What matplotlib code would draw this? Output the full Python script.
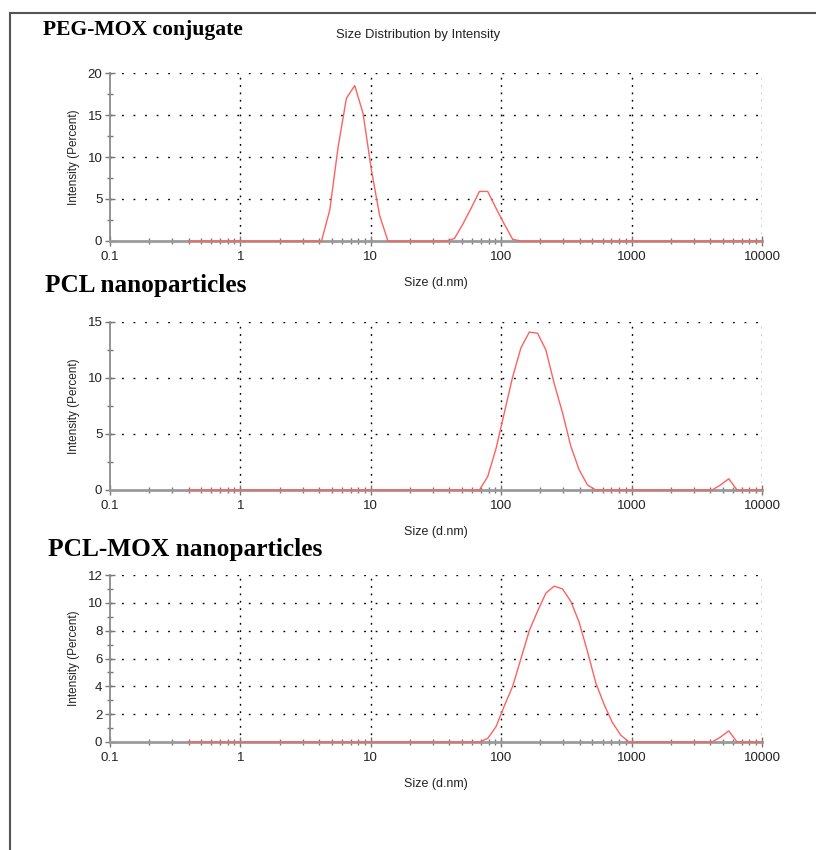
import numpy as np
import matplotlib
matplotlib.use("Agg")
import matplotlib.pyplot as plt
from matplotlib.lines import Line2D
from matplotlib.ticker import MultipleLocator, LogLocator, FixedLocator

# Zetasizer size classes (d.nm)
sizes = [0.4, 0.4632, 0.5365, 0.6213, 0.7195, 0.8332, 0.9649, 1.117, 1.294, 1.499,
         1.736, 2.010, 2.328, 2.696, 3.122, 3.615, 4.187, 4.849, 5.615, 6.503,
         7.531, 8.721, 10.10, 11.70, 13.54, 15.69, 18.17, 21.04, 24.36, 28.21,
         32.67, 37.84, 43.82, 50.75, 58.77, 68.06, 78.82, 91.28, 105.7, 122.4,
         141.8, 164.2, 190.1, 220.2, 255.0, 295.3, 342.0, 396.1, 458.7, 531.2,
         615.1, 712.4, 825.0, 955.4, 1106, 1281, 1484, 1718, 1990, 2305,
         2669, 3091, 3580, 4145, 4801, 5560, 6439, 7456, 8635, 10000]

# intensity (%) per size class
peg_mox = [0, 0, 0, 0, 0, 0, 0, 0, 0, 0,
           0, 0, 0, 0, 0, 0, 0, 3.7, 11.2, 17.0,
           18.5, 15.2, 8.5, 3.0, 0, 0, 0, 0, 0, 0,
           0, 0, 0.3, 2.0, 3.9, 5.9, 5.9, 3.9, 2.0, 0.2,
           0, 0, 0, 0, 0, 0, 0, 0, 0, 0,
           0, 0, 0, 0, 0, 0, 0, 0, 0, 0,
           0, 0, 0, 0, 0, 0, 0, 0, 0, 0]

pcl_np = [0, 0, 0, 0, 0, 0, 0, 0, 0, 0,
          0, 0, 0, 0, 0, 0, 0, 0, 0, 0,
          0, 0, 0, 0, 0, 0, 0, 0, 0, 0,
          0, 0, 0, 0, 0, 0, 1.2, 3.7, 6.9, 10.1,
          12.7, 14.1, 14.0, 12.5, 9.5, 6.9, 3.9, 1.8, 0.45, 0,
          0, 0, 0, 0, 0, 0, 0, 0, 0, 0,
          0, 0, 0, 0, 0.45, 1.0, 0, 0, 0, 0]

pcl_mox_np = [0, 0, 0, 0, 0, 0, 0, 0, 0, 0,
              0, 0, 0, 0, 0, 0, 0, 0, 0, 0,
              0, 0, 0, 0, 0, 0, 0, 0, 0, 0,
              0, 0, 0, 0, 0, 0, 0.26, 1.1, 2.6, 4.0,
              6.0, 8.0, 9.4, 10.7, 11.2, 11.0, 10.1, 8.6, 6.5, 4.25,
              2.7, 1.4, 0.5, 0, 0, 0, 0, 0, 0, 0,
              0, 0, 0, 0, 0.35, 0.8, 0, 0, 0, 0]

titles = ["PEG-MOX conjugate", "PCL nanoparticles", "PCL-MOX nanoparticles"]
title_sizes = [15.6, 18.2, 18.3]
ymaxes = [20, 15, 12]
ysteps = [5, 5, 2]
x_ticks = [0.1, 1, 10, 100, 1000, 10000]
x_ticklabels = ["0.1", "1", "10", "100", "1000", "10000"]

W, H = 816, 850
SANS = "Liberation Sans"
SERIF = "Liberation Serif"


def px_box(left, top, right, bottom):
    return [left / W, 1 - bottom / H, (right - left) / W, (bottom - top) / H]


def draw_panel(fig, box, y, ymax, ystep):
    ax = fig.add_axes(box)
    ax.plot(sizes, y, color="#ff6060", lw=1.0, zorder=4, clip_on=False)
    ax.set_xscale("log")
    ax.set_xlim(0.1, 10000)
    ax.set_ylim(0, ymax)

    ax.xaxis.set_major_locator(FixedLocator(x_ticks))
    ax.set_xticklabels(x_ticklabels)
    ax.xaxis.set_minor_locator(LogLocator(base=10, subs=np.arange(2, 10)))
    ax.yaxis.set_major_locator(MultipleLocator(ystep))
    ax.yaxis.set_minor_locator(MultipleLocator(ystep / 2))

    for s in ["top", "right"]:
        ax.spines[s].set_visible(False)
    ax.spines["left"].set_color("#8a8a8a")
    ax.spines["left"].set_linewidth(1.3)
    ax.spines["bottom"].set_color("#9a9a9a")
    ax.spines["bottom"].set_linewidth(2.0)

    ax.tick_params(which="major", direction="inout", length=7, width=1,
                   color="#777777", labelsize=9.5, labelcolor="#222222")
    ax.tick_params(which="minor", direction="inout", length=5, width=1,
                   color="#777777")
    ax.tick_params(axis="x", which="major", pad=4)
    ax.tick_params(axis="y", which="major", pad=2)
    for lab in ax.get_xticklabels() + ax.get_yticklabels():
        lab.set_fontfamily(SANS)

    # dotted grid, including the top and right edge
    for yv in np.arange(ystep, ymax + 0.01, ystep):
        ax.axhline(yv, color="black", lw=1.0, ls=(0, (1.3, 7)), zorder=1)
    for xv in x_ticks[1:]:
        ax.axvline(xv, color="black", lw=1.0, ls=(0, (1.3, 4)), zorder=1)

    ax.annotate("Size (d.nm)", xy=(0.5, 0), xycoords="axes fraction",
                xytext=(0, -30), textcoords="offset points",
                ha="center", va="center", fontsize=9, family=SANS, color="#222222")
    ax.annotate("Intensity (Percent)", xy=(0, 0.5), xycoords="axes fraction",
                xytext=(-26, 0), textcoords="offset points", rotation=90,
                ha="center", va="center", fontsize=8.5, family=SANS, color="#222222")
    return ax


fig = plt.figure(figsize=(W / 100, H / 100), dpi=100)

boxes = [px_box(110, 73, 762, 241), px_box(110, 322, 762, 490), px_box(110, 575, 762, 742)]
series = [peg_mox, pcl_np, pcl_mox_np]
for box, y, ymax, ystep in zip(boxes, series, ymaxes, ysteps):
    draw_panel(fig, box, y, ymax, ystep)

# panel titles
title_pos = [(43, 35), (45, 292), (48, 556)]
for (tx, ty), t, fs in zip(title_pos, titles, title_sizes):
    fig.text(tx / W, 1 - ty / H, t, fontsize=fs, fontweight="bold", family=SERIF,
             ha="left", va="baseline")

fig.text(336 / W, 1 - 35 / H, "Size Distribution by Intensity", fontsize=9.4,
         family=SANS, ha="left", va="center", color="#222222")

# frame lines of the original figure
fig.add_artist(Line2D([10 / W, 10 / W], [0, 1 - 13 / H], transform=fig.transFigure,
                      color="#555555", lw=1.5))
fig.add_artist(Line2D([10 / W, 1], [1 - 13 / H, 1 - 13 / H], transform=fig.transFigure,
                      color="#555555", lw=1.5))

fig.savefig("out.png", dpi=100)
